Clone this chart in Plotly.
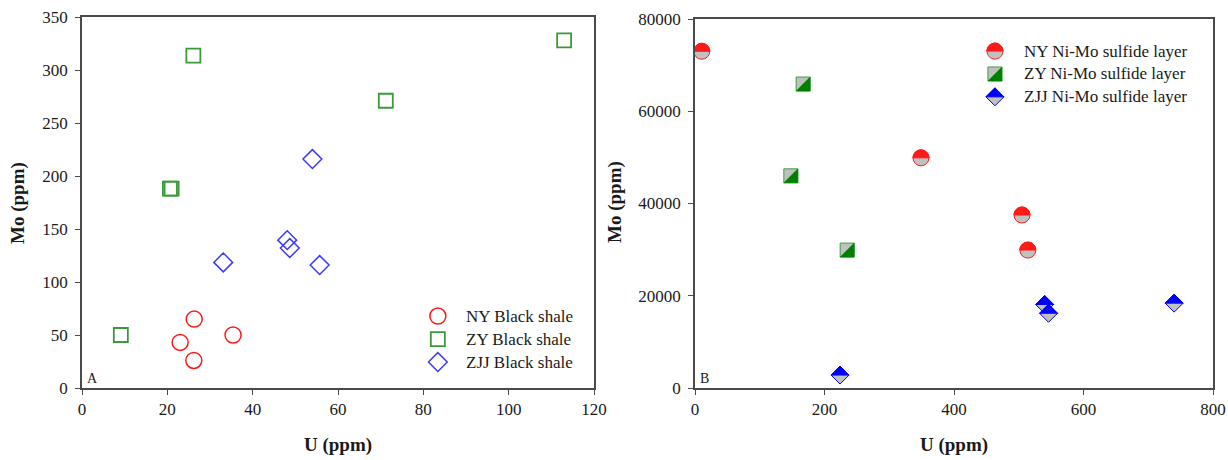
import plotly.graph_objects as go

# ---------------- data ----------------
# Panel A: black shale
ny_bs_u = [26.3, 23.0, 26.2, 35.4]
ny_bs_mo = [65, 43, 26, 50]
zy_bs_u = [9.1, 20.6, 21.0, 26.1, 71.2, 113.0]
zy_bs_mo = [50, 188, 188, 313.5, 271, 328]
zjj_bs_u = [33.1, 48.1, 48.7, 54.0, 55.7]
zjj_bs_mo = [118.5, 139.5, 132, 216, 116]

# Panel B: Ni-Mo sulfide layer
ny_nm_u = [10.5, 349, 505, 514]
ny_nm_mo = [73000, 49900, 37500, 29900]
zy_nm_u = [167, 148, 235]
zy_nm_mo = [65900, 46000, 29900]
zjj_nm_u = [224, 540, 546, 740]
zjj_nm_mo = [2800, 18100, 16200, 18400]

names_a = ["NY Black shale", "ZY Black shale", "ZJJ Black shale"]
names_b = ["NY Ni-Mo sulfide layer", "ZY Ni-Mo sulfide layer", "ZJJ Ni-Mo sulfide layer"]

x_ticks_a = [0, 20, 40, 60, 80, 100, 120]
y_ticks_a = [0, 50, 100, 150, 200, 250, 300, 350]
x_ticks_b = [0, 200, 400, 600, 800]
y_ticks_b = [0, 20000, 40000, 60000, 80000]

# ---------------- styles ----------------
RED = "#ff1a1a"
GREEN_A = "#3a9a3a"
BLUE_A = "#3b3bff"
GREEN_B = "#008000"
BLUE_B = "#0000ff"
GRAY = "#c0c0c0"
AXC = "#4a4a4a"
FONT = "Liberation Serif"

W, H = 1228, 460
A_X = (82, 594)
B_X = (695, 1213)
A_Y = (17, 388)
B_Y = (19, 388)


def xd(px):
    return [px[0] / W, px[1] / W]


def yd(py):
    return [(H - py[1]) / H, (H - py[0]) / H]


# pixel-space marker paths (y positive up)
def circle_full(r):
    k = 0.5523 * r
    return (f"M{-r},0 C{-r},{k} {-k},{r} 0,{r} C{k},{r} {r},{k} {r},0 "
            f"C{r},{-k} {k},{-r} 0,{-r} C{-k},{-r} {-r},{-k} {-r},0 Z")


def circle_top(r):
    k = 0.5523 * r
    return f"M{-r},0 C{-r},{k} {-k},{r} 0,{r} C{k},{r} {r},{k} {r},0 Z"


def square_full(h):
    return f"M{-h},{-h} L{h},{-h} L{h},{h} L{-h},{h} Z"


def square_br(h):
    return f"M{-h},{-h} L{h},{-h} L{h},{h} Z"


def diamond_full(w):
    return f"M{-w},0 L0,{w} L{w},0 L0,{-w} Z"


def diamond_top(w):
    return f"M{-w},0 L0,{w} L{w},0 Z"


fig = go.Figure()

# Panel A traces
fig.add_trace(go.Scatter(x=ny_bs_u, y=ny_bs_mo, mode="markers", name=names_a[0],
                         marker=dict(symbol="circle-open", size=16, color=RED, line=dict(width=1.5)),
                         xaxis="x", yaxis="y", showlegend=False))
fig.add_trace(go.Scatter(x=zy_bs_u, y=zy_bs_mo, mode="markers", name=names_a[1],
                         marker=dict(symbol="square-open", size=14, color=GREEN_A, line=dict(width=1.8)),
                         xaxis="x", yaxis="y", showlegend=False))
fig.add_trace(go.Scatter(x=zjj_bs_u, y=zjj_bs_mo, mode="markers", name=names_a[2],
                         marker=dict(symbol="diamond-open", size=14.5, color=BLUE_A, line=dict(width=1.5)),
                         xaxis="x", yaxis="y", showlegend=False))

# Panel B traces (gray base, coloured half added as shapes)
R_C, H_S, W_D = 8, 7, 9
fig.add_trace(go.Scatter(x=ny_nm_u, y=ny_nm_mo, mode="markers", name=names_b[0],
                         marker=dict(symbol="circle", size=2 * R_C, color=GRAY, line=dict(width=1, color=RED)),
                         xaxis="x2", yaxis="y2", showlegend=False))
fig.add_trace(go.Scatter(x=zy_nm_u, y=zy_nm_mo, mode="markers", name=names_b[1],
                         marker=dict(symbol="square", size=2 * H_S, color=GRAY, line=dict(width=1, color="#3f9f3f")),
                         xaxis="x2", yaxis="y2", showlegend=False))
fig.add_trace(go.Scatter(x=zjj_nm_u, y=zjj_nm_mo, mode="markers", name=names_b[2],
                         marker=dict(symbol="diamond", size=2 * W_D / 1.3, color=GRAY, line=dict(width=1, color=BLUE_B)),
                         xaxis="x2", yaxis="y2", showlegend=False))

shapes = []


def pix_shape(xa, ya, path, fill, line, lw, xref, yref):
    return dict(type="path", xsizemode="pixel", ysizemode="pixel", xanchor=xa, yanchor=ya,
                path=path, fillcolor=fill, line=dict(color=line, width=lw), xref=xref, yref=yref,
                layer="above")


for xv, yv in zip(ny_nm_u, ny_nm_mo):
    shapes.append(pix_shape(xv, yv, circle_top(R_C), RED, RED, 1, "x2", "y2"))
for xv, yv in zip(zy_nm_u, zy_nm_mo):
    shapes.append(pix_shape(xv, yv, square_br(H_S), GREEN_B, GREEN_B, 0.5, "x2", "y2"))
for xv, yv in zip(zjj_nm_u, zjj_nm_mo):
    shapes.append(pix_shape(xv, yv, diamond_top(W_D), BLUE_B, BLUE_B, 1, "x2", "y2"))

annotations = []

# Legend A (custom)
leg_a_x, leg_a_tx = 0.695, 0.746
leg_a_y = [0.194, 0.132, 0.070]
shapes.append(pix_shape(leg_a_x, leg_a_y[0], circle_full(8), "rgba(0,0,0,0)", RED, 1.5, "x domain", "y domain"))
shapes.append(pix_shape(leg_a_x, leg_a_y[1], square_full(7), "rgba(0,0,0,0)", GREEN_A, 1.8, "x domain", "y domain"))
shapes.append(pix_shape(leg_a_x, leg_a_y[2], diamond_full(9.4), "rgba(0,0,0,0)", BLUE_A, 1.5, "x domain", "y domain"))
for nm, yy in zip(names_a, leg_a_y):
    annotations.append(dict(text=nm, x=leg_a_tx, y=yy, xref="x domain", yref="y domain",
                            xanchor="left", yanchor="middle", showarrow=False,
                            font=dict(family=FONT, size=17, color="#1a1a1a")))

# Legend B (custom)
leg_b_x, leg_b_tx = 0.579, 0.631
leg_b_y = [0.913, 0.851, 0.789]
shapes.append(pix_shape(leg_b_x, leg_b_y[0], circle_full(R_C), GRAY, RED, 1, "x2 domain", "y2 domain"))
shapes.append(pix_shape(leg_b_x, leg_b_y[0], circle_top(R_C), RED, RED, 1, "x2 domain", "y2 domain"))
shapes.append(pix_shape(leg_b_x, leg_b_y[1], square_full(H_S), GRAY, "#3f9f3f", 1, "x2 domain", "y2 domain"))
shapes.append(pix_shape(leg_b_x, leg_b_y[1], square_br(H_S), GREEN_B, GREEN_B, 0.5, "x2 domain", "y2 domain"))
shapes.append(pix_shape(leg_b_x, leg_b_y[2], diamond_full(W_D), GRAY, BLUE_B, 1, "x2 domain", "y2 domain"))
shapes.append(pix_shape(leg_b_x, leg_b_y[2], diamond_top(W_D), BLUE_B, BLUE_B, 1, "x2 domain", "y2 domain"))
for nm, yy in zip(names_b, leg_b_y):
    annotations.append(dict(text=nm, x=leg_b_tx, y=yy, xref="x2 domain", yref="y2 domain",
                            xanchor="left", yanchor="middle", showarrow=False,
                            font=dict(family=FONT, size=17, color="#1a1a1a")))

# Panel letters
annotations.append(dict(text="A", x=0.006, y=0.0, xref="x domain", yref="y domain", xanchor="left",
                        yanchor="bottom", showarrow=False, font=dict(family=FONT, size=14, color="#1a1a1a")))
annotations.append(dict(text="B", x=0.006, y=0.0, xref="x2 domain", yref="y2 domain", xanchor="left",
                        yanchor="bottom", showarrow=False, font=dict(family=FONT, size=14, color="#1a1a1a")))

# Axis titles
tfont = dict(family=FONT, size=19, color="#1a1a1a")
annotations.append(dict(text="<b>U (ppm)</b>", x=(A_X[0] + A_X[1]) / 2 / W, y=(H - 445) / H, xref="paper",
                        yref="paper", showarrow=False, font=tfont, xanchor="center", yanchor="middle"))
annotations.append(dict(text="<b>U (ppm)</b>", x=(B_X[0] + B_X[1]) / 2 / W, y=(H - 445) / H, xref="paper",
                        yref="paper", showarrow=False, font=tfont, xanchor="center", yanchor="middle"))
annotations.append(dict(text="<b>Mo (ppm)</b>", x=18 / W, y=(H - 203) / H, xref="paper", yref="paper",
                        showarrow=False, font=tfont, textangle=-90, xanchor="center", yanchor="middle"))
annotations.append(dict(text="<b>Mo (ppm)</b>", x=615 / W, y=(H - 202) / H, xref="paper", yref="paper",
                        showarrow=False, font=tfont, textangle=-90, xanchor="center", yanchor="middle"))

axis_common = dict(showgrid=False, zeroline=False, showline=True, linecolor=AXC, linewidth=1.5,
                   mirror=True, ticks="outside", ticklen=5, tickwidth=1.2, tickcolor=AXC,
                   tickfont=dict(family=FONT, size=17, color="#1a1a1a"), automargin=False)

fig.update_layout(
    width=W, height=H,
    margin=dict(l=0, r=0, t=0, b=0),
    paper_bgcolor="white", plot_bgcolor="white",
    showlegend=False,
    xaxis=dict(domain=xd(A_X), range=[0, 120], tickvals=x_ticks_a, anchor="y", **axis_common),
    yaxis=dict(domain=yd(A_Y), range=[0, 350], tickvals=y_ticks_a, anchor="x", ticklabelstandoff=4, **axis_common),
    xaxis2=dict(domain=xd(B_X), range=[0, 800], tickvals=x_ticks_b, anchor="y2", **axis_common),
    yaxis2=dict(domain=yd(B_Y), range=[0, 80000], tickvals=y_ticks_b, tickformat="d", anchor="x2",
                ticklabelstandoff=4, **axis_common),
    shapes=shapes,
    annotations=annotations,
)

fig.write_html("out.html")
